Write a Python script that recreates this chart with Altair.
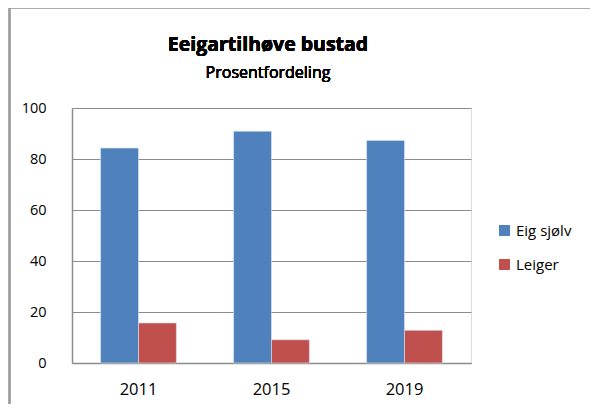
import altair as alt
import pandas as pd

years = ["2011", "2015", "2019"]
series = ["Eig sjølv", "Leiger"]
eig = [84.3, 90.9, 87.3]
leiger = [15.7, 9.1, 12.8]
colors = ["#4F81BD", "#C0504D"]
title_text = "Eeigartilhøve bustad"
subtitle_text = "Prosentfordeling"

rows = []
for i, y in enumerate(years):
    rows.append({"year": y, "serie": series[0], "value": eig[i]})
    rows.append({"year": y, "serie": series[1], "value": leiger[i]})
df = pd.DataFrame(rows)

FONT = "Open Sans"

bars = alt.Chart(df).mark_bar(stroke="#dbe5f1", strokeWidth=0.6).encode(
    x=alt.X("year:N", sort=years, title=None,
            scale=alt.Scale(paddingInner=0.43, paddingOuter=0.215),
            axis=alt.Axis(labelAngle=0, labelFontSize=16.5, labelFont=FONT, labelColor="#000000",
                          labelFontWeight="normal",
                          labelPadding=18, ticks=False, domain=True, domainColor="#8c8c8c",
                          domainWidth=1.5)),
    xOffset=alt.XOffset("serie:N", sort=series),
    y=alt.Y("value:Q", title=None,
            scale=alt.Scale(domain=[0, 100]),
            axis=alt.Axis(values=[0, 20, 40, 60, 80, 100], labelFontSize=14.5, labelFont=FONT,
                          labelFontWeight="normal",
                          labelColor="#000000", labelPadding=26, ticks=False,
                          domain=True, domainColor="#8c8c8c", domainWidth=1.5,
                          grid=True, gridColor="#8c8c8c", gridWidth=1.2)),
    color=alt.Color("serie:N", sort=series,
                    scale=alt.Scale(domain=series, range=colors),
                    legend=alt.Legend(title=None, orient="none", legendX=425, legendY=115,
                                      symbolType="square", symbolSize=120, symbolStrokeWidth=0,
                                      labelFontSize=15, labelFont=FONT, labelColor="#000000",
                                      labelFontWeight="normal",
                                      rowPadding=18, labelOffset=4)),
)

title = alt.Chart(df).mark_text(font=FONT, fontSize=19.5, fontWeight="bold", color="#000000",
                                baseline="middle", align="center").encode(
    x=alt.value(196), y=alt.value(-63), text=alt.value(title_text))
subtitle = alt.Chart(df).mark_text(font=FONT, fontSize=16, fontWeight="normal", color="#000000",
                                   baseline="middle", align="center").encode(
    x=alt.value(196), y=alt.value(-35), text=alt.value(subtitle_text))

frame_top = alt.Chart(df).mark_rule(color="#9a9a9a", strokeWidth=1.5).encode(
    x=alt.value(-63), x2=alt.value(530), y=alt.value(-100.5))
frame_left = alt.Chart(df).mark_rule(color="#9a9a9a", strokeWidth=1.5).encode(
    x=alt.value(-62.5), y=alt.value(-101), y2=alt.value(310))
frame_outer = alt.Chart(df).mark_rule(color="#b0b0b0", strokeWidth=1.5).encode(
    x=alt.value(-70.5), y=alt.value(-110), y2=alt.value(310))

chart = alt.layer(frame_outer, frame_top, frame_left, title, subtitle, bars).properties(
    width=399, height=255,
    autosize=alt.AutoSizeParams(type="none"),
    padding={"left": 64, "top": 100, "right": 119, "bottom": 41},
).configure_view(stroke=None).configure(background="#ffffff")

chart.save("out.html", embed_options={"renderer": "svg", "actions": False})
